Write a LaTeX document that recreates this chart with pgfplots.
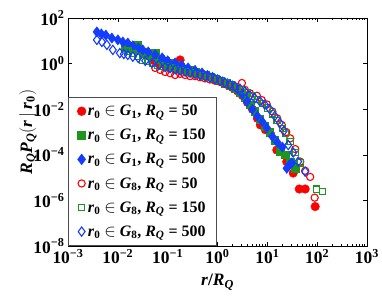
\documentclass[border=0pt]{standalone}
\usepackage{fontspec}
\setmainfont{Liberation Serif}
\usepackage{pgfplots}
\pgfplotsset{compat=1.18}
\definecolor{cR}{RGB}{255,0,0}
\definecolor{cG}{RGB}{30,150,30}
\definecolor{cB}{RGB}{20,60,255}
\newcommand{\lent}[2]{\textit{r}\textsubscript{0} $\in$ \textit{G}\textsubscript{#1}, \textit{R}\textsubscript{\textit{Q}} = #2}
\begin{document}
\begin{tikzpicture}
\begin{axis}[
 scale only axis, width=299bp, height=228bp,
 xmode=log, ymode=log,
 xmin=1e-3, xmax=1e3, ymin=1e-8, ymax=1e2,
 xtick={1e-3,1e-2,1e-1,1,1e1,1e2,1e3},
 xticklabels={10\textsuperscript{−3},10\textsuperscript{−2},10\textsuperscript{−1},10\textsuperscript{0},10\textsuperscript{1},10\textsuperscript{2},10\textsuperscript{3}},
 ytick={1e-8,1e-6,1e-4,1e-2,1,1e2},
 yticklabels={10\textsuperscript{−8},10\textsuperscript{−6},10\textsuperscript{−4},10\textsuperscript{−2},10\textsuperscript{0},10\textsuperscript{2}},
 yminorticks=false,
 tick align=inside,
 major tick length=4bp, minor tick length=2bp,
 tick style={black, line width=0.5bp},
 axis line style={line width=0.8bp},
 ticklabel style={font=\fontsize{17.5}{17.5}\selectfont\bfseries},
 xlabel={\textit{r}/\textit{R}\textsubscript{\textit{Q}}},
 ylabel={\textit{R}\textsubscript{\textit{Q}}\textit{P}\textsubscript{\textit{Q}}\big(\textit{r}\,\big|\,\textit{r}\textsubscript{0}\big)},
 label style={font=\fontsize{17.5}{17.5}\selectfont\bfseries},
 xlabel style={at={(axis description cs:0.5,-0.16)}, anchor=center},
 ylabel style={at={(axis description cs:-0.134,0.5)}, anchor=center},
 legend style={at={(0,0)}, anchor=south west, font=\fontsize{16}{16.5}\selectfont\bfseries, draw=black!70, line width=0.7bp, row sep=8bp, inner xsep=9bp, inner ysep=6bp},
 legend cell align=left,
]
\addplot[only marks, mark=*, mark size=4.3bp, color=cR] coordinates {
(5.01e-2,1.41) (6.31e-2,1.12) (7.94e-2,1.0) (0.1,0.794) (0.126,0.759) (0.178,1.445)
(0.2,0.562) (0.251,0.501) (0.316,0.417) (0.398,0.355) (0.501,0.316) (0.631,0.263)
(0.794,0.224) (1.0,0.191) (1.26,0.151) (1.58,0.120) (2.0,0.0891) (2.51,0.0631)
(3.16,0.0398) (3.98,0.0200) (5.01,0.01) (6.31,3.98e-3) (7.24,2.04e-3) (9.12,1.26e-3)
(11.5,8.71e-4) (15.5,1.62e-4) (18.2,2.0e-4) (24.5,5.01e-5) (33.1,1.58e-5)
(43.7,3.16e-6) (57.5,3.16e-6) (91.2,5.37e-7)
};
\addlegendentry{\lent{1}{50}}
\addplot[only marks, mark=square*, mark size=3.8bp, color=cG] coordinates {
(1.38e-2,5.37) (1.78e-2,4.47) (2.45e-2,6.61) (3.16e-2,2.82) (3.55e-2,3.24) (4.47e-2,2.40)
(5.62e-2,2.88) (7.08e-2,1.585) (8.91e-2,1.26) (0.112,1.047) (0.141,0.891) (0.178,0.708)
(0.224,0.603) (0.282,0.501) (0.355,0.437) (0.447,0.363) (0.562,0.316) (0.708,0.263)
(0.891,0.219) (1.12,0.178) (1.41,0.141) (1.78,0.112) (2.24,0.0794) (2.82,0.0525)
(3.55,0.0316) (4.47,0.0158) (5.62,7.94e-3) (7.08,3.55e-3) (8.91,1.78e-3) (11.2,1.0e-3)
(14.1,4.47e-4) (18.2,1.41e-4) (22.9,1.0e-4) (28.8,5.01e-5) (36.3,2.63e-5)
};
\addlegendentry{\lent{1}{150}}
\addplot[only marks, mark=diamond*, mark size=5.2bp, color=cB] coordinates {
(3.80e-3,24.5) (4.68e-3,20.0) (5.75e-3,17.8) (7.59e-3,13.2) (1.0e-2,11.0) (1.26e-2,8.91)
(1.585e-2,7.94) (2.0e-2,6.03) (2.57e-2,4.79) (3.16e-2,3.98) (4.07e-2,3.24) (5.62e-2,2.40)
(7.76e-2,1.78) (0.1,1.32) (0.141,1.07) (0.191,0.832) (0.257,0.646) (0.355,0.501)
(0.490,0.389) (0.631,0.302) (0.794,0.251) (1.0,0.2) (1.26,0.158) (1.58,0.132)
(2.0,0.105) (2.51,0.0759) (3.16,0.0447) (3.89,0.0214) (5.01,0.01) (6.31,5.01e-3)
(7.94,2.82e-3) (9.77,1.51e-3) (12.6,6.31e-4) (15.8,3.55e-4) (20.0,2.19e-4)
(24.5,2.57e-5) (27.5,3.55e-5) (30.9,4.37e-5)
};
\addlegendentry{\lent{1}{500}}
\addplot[only marks, mark=o, mark size=3.6bp, color=cR, mark options={line width=1.1bp}] coordinates {
(5.62e-2,0.646) (7.08e-2,0.525) (8.91e-2,0.427) (0.112,0.380) (0.141,0.316) (0.178,0.355)
(0.224,0.316) (0.282,0.282) (0.355,0.282) (0.447,0.251) (0.562,0.224) (0.708,0.2)
(0.891,0.178) (1.12,0.158) (1.41,0.132) (1.78,0.112) (2.24,0.1) (3.09,0.141)
(3.55,0.0708) (4.47,0.0501) (6.17,0.0389) (7.76,0.0251) (9.77,0.0162) (12.6,7.94e-3)
(15.8,3.98e-3) (19.5,2.04e-3) (24.0,1.0e-3) (28.8,5.25e-4) (36.3,1.78e-4)
(45.7,5.01e-5) (57.5,2.0e-5) (72.4,1.07e-5) (89.1,1.32e-6)
};
\addlegendentry{\lent{8}{50}}
\addplot[only marks, mark=square, mark size=3.2bp, color=cG, mark options={line width=1.1bp}] coordinates {
(1.585e-2,3.55) (2.0e-2,2.82) (2.51e-2,2.0) (3.16e-2,1.445) (3.98e-2,1.26) (5.01e-2,1.047)
(6.31e-2,0.871) (7.94e-2,0.794) (0.1,0.708) (0.126,0.631) (0.158,0.562) (0.2,0.501)
(0.251,0.437) (0.316,0.380) (0.398,0.331) (0.501,0.288) (0.631,0.251) (0.794,0.219)
(1.0,0.191) (1.26,0.158) (1.58,0.138) (2.0,0.112) (2.51,0.0891) (3.16,0.0708)
(3.98,0.0525) (5.01,0.0380) (6.31,0.0263) (7.94,0.0178) (10.0,0.0112) (12.6,6.31e-3)
(15.8,3.16e-3) (20.0,1.41e-3) (22.9,8.91e-4) (28.8,3.80e-4) (36.3,1.26e-4)
(45.7,4.47e-5) (97.7,3.09e-6) (129,2.40e-6)
};
\addlegendentry{\lent{8}{150}}
\addplot[only marks, mark=diamond, mark size=4.6bp, color=cB, mark options={line width=1.1bp}] coordinates {
(3.80e-3,11.0) (4.79e-3,8.91) (6.03e-3,6.61) (7.94e-3,3.98) (1.096e-2,2.88) (1.32e-2,2.63)
(1.585e-2,2.40) (2.0e-2,2.0) (2.57e-2,1.78) (3.55e-2,1.32) (4.90e-2,1.07) (6.61e-2,0.871)
(8.91e-2,0.708) (0.112,0.631) (0.141,0.562) (0.178,0.501) (0.224,0.447) (0.282,0.398)
(0.355,0.355) (0.447,0.316) (0.562,0.275) (0.708,0.240) (0.891,0.209) (1.12,0.174)
(1.41,0.145) (1.78,0.120) (2.24,0.1) (2.82,0.0794) (3.55,0.0603) (4.47,0.0398)
(5.62,0.0302) (7.08,0.0224) (8.91,0.0158) (11.2,0.01) (14.1,5.01e-3) (17.8,2.51e-3)
(21.4,1.12e-3) (26.3,2.69e-4) (33.1,1.26e-4) (41.7,5.01e-5) (57.5,1.82e-5)
};
\addlegendentry{\lent{8}{500}}
\end{axis}
\pgfresetboundingbox
\path (-68bp,-54bp) rectangle (314bp,246bp);
\end{tikzpicture}
\end{document}
